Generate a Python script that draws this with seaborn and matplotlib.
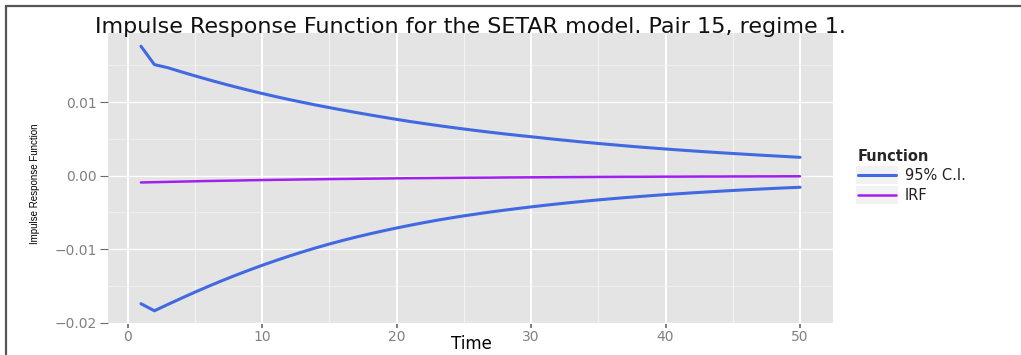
import matplotlib
matplotlib.use("Agg")
import matplotlib.pyplot as plt
import pandas as pd
import seaborn as sns
from matplotlib.lines import Line2D
from matplotlib.patches import Rectangle
from matplotlib.ticker import FixedLocator, FuncFormatter

# ---- data -------------------------------------------------------------
time = list(range(1, 51))

irf = [-0.00092, -0.00088, -0.00084, -0.00080, -0.00076, -0.00072, -0.00069, -0.00066,
       -0.00062, -0.00059, -0.00056, -0.00054, -0.00051, -0.00049, -0.00046, -0.00044,
       -0.00042, -0.00040, -0.00038, -0.00036, -0.00034, -0.00033, -0.00031, -0.00030,
       -0.00028, -0.00027, -0.00026, -0.00024, -0.00023, -0.00022, -0.00021, -0.00020,
       -0.00019, -0.00018, -0.00017, -0.00016, -0.00015, -0.00015, -0.00014, -0.00013,
       -0.00013, -0.00012, -0.00011, -0.00011, -0.00010, -0.00010, -0.00009, -0.00009,
       -0.00008, -0.00008]

ci_upper = [0.01760, 0.01510, 0.01468, 0.01412, 0.01358, 0.01306, 0.01256, 0.01208, 0.01162, 0.01118,
            0.01076, 0.01036, 0.00998, 0.00961, 0.00926, 0.00892, 0.00859, 0.00827, 0.00796, 0.00766,
            0.00737, 0.00710, 0.00684, 0.00659, 0.00635, 0.00612, 0.00590, 0.00569, 0.00549, 0.00530,
            0.00510, 0.00491, 0.00473, 0.00455, 0.00438, 0.00422, 0.00406, 0.00391, 0.00377, 0.00363,
            0.00350, 0.00337, 0.00325, 0.00313, 0.00302, 0.00291, 0.00280, 0.00270, 0.00260, 0.00250]

ci_lower = [-0.01740, -0.01836, -0.01750, -0.01666, -0.01584, -0.01505, -0.01429, -0.01356, -0.01286, -0.01219,
            -0.01155, -0.01094, -0.01036, -0.00981, -0.00929, -0.00880, -0.00834, -0.00791, -0.00750, -0.00711,
            -0.00674, -0.00639, -0.00606, -0.00575, -0.00546, -0.00519, -0.00493, -0.00469, -0.00446, -0.00424,
            -0.00403, -0.00383, -0.00364, -0.00346, -0.00329, -0.00313, -0.00298, -0.00284, -0.00270, -0.00257,
            -0.00245, -0.00233, -0.00222, -0.00211, -0.00201, -0.00191, -0.00182, -0.00173, -0.00165, -0.00157]

functions = ["95% C.I.", "IRF"]
x_major = [0, 10, 20, 30, 40, 50]
x_minor = [5, 15, 25, 35, 45]
y_major = [-0.02, -0.01, 0.00, 0.01]
y_minor = [-0.015, -0.005, 0.005, 0.015]

title = "Impulse Response Function for the SETAR model. Pair 15, regime 1."

# ---- styling ----------------------------------------------------------
palette = {"95% C.I.": "#4169E1", "IRF": "#A020F0"}
widths = {"95% C.I.": 2.2, "IRF": 1.8}

sns.set_theme(style="white")
plt.rcParams["font.family"] = ["DejaVu Sans"]

ci_df = pd.concat([
    pd.DataFrame({"Time": time, "Response": ci_upper, "Bound": "upper"}),
    pd.DataFrame({"Time": time, "Response": ci_lower, "Bound": "lower"}),
], ignore_index=True)
ci_df["Function"] = "95% C.I."
irf_df = pd.DataFrame({"Time": time, "Response": irf, "Function": "IRF"})

W, H = 1021, 355
fig = plt.figure(figsize=(W / 100, H / 100), dpi=100)
fig.patch.set_facecolor("white")
ax = fig.add_axes([108 / W, 1 - 324 / H, (833 - 108) / W, (324 - 33) / H])
ax.set_facecolor("#E4E4E4")

sns.lineplot(data=ci_df, x="Time", y="Response", units="Bound", estimator=None,
             color=palette["95% C.I."], linewidth=widths["95% C.I."], sort=False,
             legend=False, ax=ax)
sns.lineplot(data=irf_df, x="Time", y="Response", color=palette["IRF"],
             linewidth=widths["IRF"], legend=False, ax=ax)

ax.margins(x=0.05, y=0.05)
for s in ax.spines.values():
    s.set_visible(False)

ax.xaxis.set_major_locator(FixedLocator(x_major))
ax.xaxis.set_minor_locator(FixedLocator(x_minor))
ax.yaxis.set_major_locator(FixedLocator(y_major))
ax.yaxis.set_minor_locator(FixedLocator(y_minor))
ax.xaxis.set_major_formatter(FuncFormatter(lambda v, p: f"{v:g}"))
ax.yaxis.set_major_formatter(FuncFormatter(lambda v, p: f"{v:.2f}".replace("-", "\u2212")))

ax.grid(which="major", axis="x", color="white", linewidth=1.4)
ax.grid(which="major", axis="y", color="white", linewidth=0.9)
ax.grid(which="minor", axis="x", color="#F3F3F3", linewidth=0.9)
ax.grid(which="minor", axis="y", color="#F3F3F3", linewidth=0.5)
ax.set_axisbelow(True)
ax.tick_params(which="minor", length=0)
ax.tick_params(axis="x", which="major", bottom=True, length=3, width=1.2, color="#6a6a6a",
               labelcolor="#808080", labelsize=10, pad=1)
ax.tick_params(axis="y", which="major", left=True, length=5.8, width=0.8, color="#6a6a6a",
               labelcolor="#808080", labelsize=10, pad=2)

ax.set_xlabel("Time", fontsize=12, color="black")
ax.set_ylabel("Impulse Response Function", fontsize=7, family=["Liberation Sans"],
              color="black")
ax.xaxis.set_label_coords((471 - 108) / 725, (324 - 344) / 291)
ax.xaxis.label.set_va("center")
ax.yaxis.set_label_coords((35 - 108) / 725, (324 - 184) / 291)
ax.yaxis.label.set_va("center")

fig.text(470 / W, 1 - 27 / H, title, ha="center", va="center",
         fontsize=16, color="#111111")

# legend
handles = [Line2D([], [], color=palette[f], linewidth=widths[f]) for f in functions]
leg = ax.legend(handles, functions, title="Function", loc="upper left",
                bbox_to_anchor=(858 / W, 1 - 149 / H), bbox_transform=fig.transFigure,
                frameon=False, fontsize=10.5, title_fontsize=10.5, handlelength=2.6,
                handletextpad=0.6, labelspacing=0.3, alignment="left", borderpad=0,
                borderaxespad=0)
leg.get_title().set_fontweight("bold")
for t in leg.get_texts():
    t.set_color("#222222")

fig.canvas.draw()
renderer = fig.canvas.get_renderer()
for h in leg.legend_handles:
    bb = h.get_window_extent(renderer)
    cx, cy = (bb.x0 + bb.x1) / 2, (bb.y0 + bb.y1) / 2
    bw, bh = 42, 18
    fig.patches.append(Rectangle(((cx - bw / 2) / W, (cy - bh / 2) / H), bw / W, bh / H,
                                 transform=fig.transFigure, facecolor="#F2F2F2",
                                 edgecolor="none", zorder=-1))

# outer frame lines (top and left)
fig.add_artist(Line2D([5.5 / W, 1], [1 - 5.5 / H, 1 - 5.5 / H], transform=fig.transFigure,
                      color="#555555", linewidth=1.6))
fig.add_artist(Line2D([5.5 / W, 5.5 / W], [0, 1 - 5.5 / H], transform=fig.transFigure,
                      color="#555555", linewidth=1.6))

fig.savefig("out.png", dpi=100)
